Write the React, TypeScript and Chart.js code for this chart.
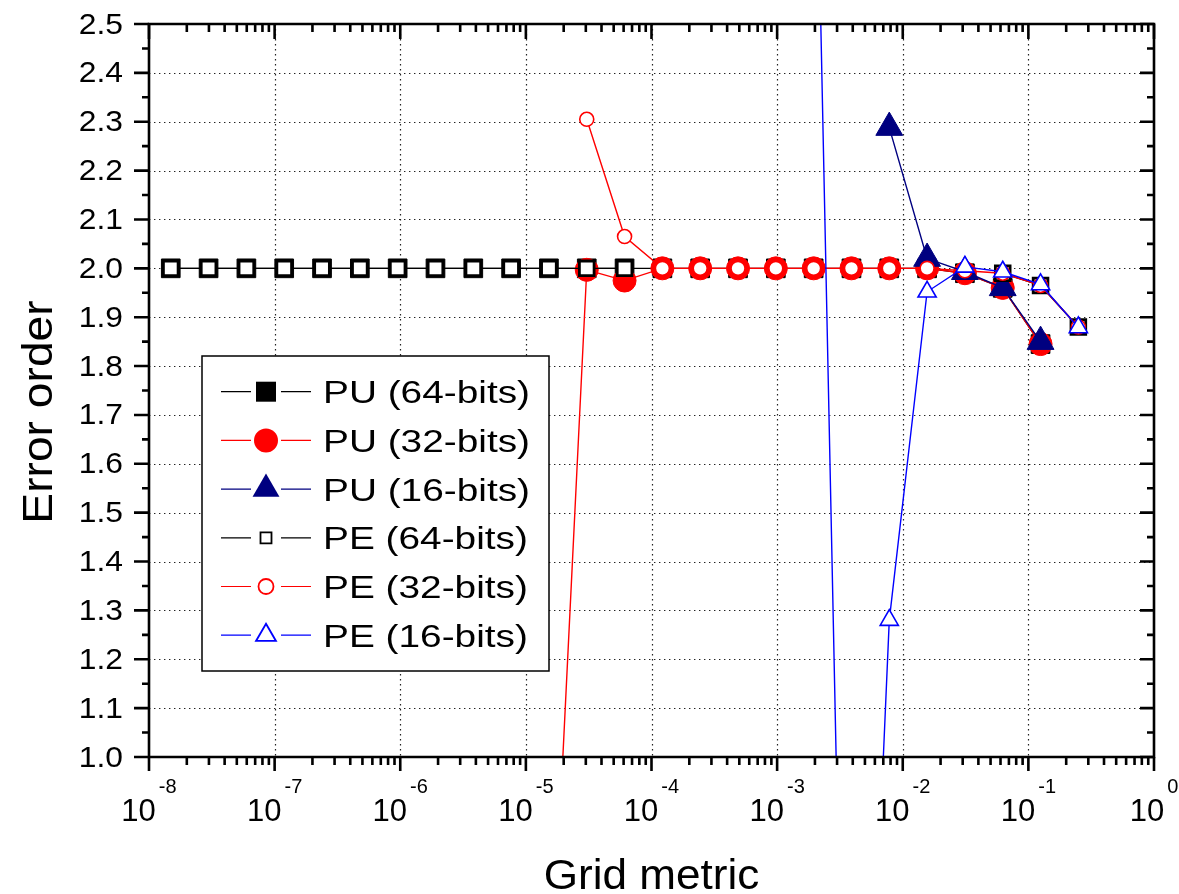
import React, { useEffect, useRef } from "react";
import { Chart, registerables } from "chart.js";

Chart.register(...registerables);

// Grid metric h = 2^-k, k = 2 ... 26
const gridMetric = [
  0.25, 0.125, 0.0625, 0.03125, 0.015625, 0.0078125, 0.00390625, 0.001953125,
  9.765625e-4, 4.8828125e-4, 2.44140625e-4, 1.220703125e-4, 6.103515625e-5,
  3.0517578125e-5, 1.52587890625e-5, 7.62939453125e-6, 3.814697265625e-6,
  1.9073486328125e-6, 9.5367431640625e-7, 4.76837158203125e-7,
  2.384185791015625e-7, 1.1920928955078125e-7, 5.9604644775390625e-8,
  2.98023223876953125e-8, 1.490116119384765625e-8,
];

const puBits64 = [
  null, 1.845, 1.96, 1.99, 2.0, 2.0, 2.0, 2.0, 2.0, 2.0, 2.0, 2.0, 2.0,
  2.0, 2.0, 2.0, 2.0, 2.0, 2.0, 2.0, 2.0, 2.0, 2.0, 2.0, 2.0,
];
const puBits32 = [
  null, 1.845, 1.96, 1.99, 2.0, 2.0, 2.0, 2.0, 2.0, 2.0, 2.0, 2.0, 1.975,
  1.997, 0.42, null, null, null, null, null, null, null, null, null, null,
];
const puBits16 = [
  null, 1.85, 1.96, 1.993, 2.02, 2.288, null, null, null, null, null, null, null,
  null, null, null, null, null, null, null, null, null, null, null, null,
];
const peBits64 = [
  1.88, 1.965, 1.99, null, null, null, null, null, null, null, null, null, 2.0,
  2.0, 2.0, 2.0, 2.0, 2.0, 2.0, 2.0, 2.0, 2.0, 2.0, 2.0, 2.0,
];
const peBits32 = [
  1.88, 1.965, 1.99, 1.995, 2.0, 2.0, 2.0, 2.0, 2.0, 2.0, 2.0, 2.0, 2.065,
  2.305, null, null, null, null, null, null, null, null, null, null, null,
];
const peBits16 = [
  1.879, 1.967, 1.993, 2.003, 1.952, 1.28, -0.5, 3.2, null, null, null, null, null,
  null, null, null, null, null, null, null, null, null, null, null, null,
];

const legendLabels = [
  "PU (64-bits)",
  "PU (32-bits)",
  "PU (16-bits)",
  "PE (64-bits)",
  "PE (32-bits)",
  "PE (16-bits)",
];

const yTickLabels = [
  "1.0", "1.1", "1.2", "1.3", "1.4", "1.5", "1.6", "1.7",
  "1.8", "1.9", "2.0", "2.1", "2.2", "2.3", "2.4", "2.5",
];
const xDecadeExponents = ["-8", "-7", "-6", "-5", "-4", "-3", "-2", "-1", "0"];

const xTitle = "Grid metric";
const yTitle = "Error order";

const FONT = '"Liberation Sans", Arial, Helvetica, sans-serif';

type MarkerKind = "square" | "circle" | "triangle";

const seriesStyles = [
  { color: "#000000", kind: "square" as MarkerKind, filled: true, lr: 10 },
  { color: "#ff0000", kind: "circle" as MarkerKind, filled: true, lr: 12 },
  { color: "#000080", kind: "triangle" as MarkerKind, filled: true, lr: 15.5 },
  { color: "#000000", kind: "square" as MarkerKind, filled: false, lr: 5.5 },
  { color: "#ff0000", kind: "circle" as MarkerKind, filled: false, lr: 7.5 },
  { color: "#0000ff", kind: "triangle" as MarkerKind, filled: false, lr: 11.5 },
];

function drawMarker(
  ctx: CanvasRenderingContext2D,
  kind: MarkerKind,
  x: number,
  y: number,
  r: number,
  color: string,
  filled: boolean
) {
  ctx.save();
  ctx.beginPath();
  if (kind === "square") {
    ctx.rect(x - r, y - r, 2 * r, 2 * r);
  } else if (kind === "circle") {
    ctx.arc(x, y, r, 0, Math.PI * 2);
  } else {
    const h = (r * Math.sqrt(3)) / 2;
    ctx.moveTo(x, y - r);
    ctx.lineTo(x + h, y + r / 2);
    ctx.lineTo(x - h, y + r / 2);
    ctx.closePath();
  }
  if (filled) {
    ctx.fillStyle = color;
    ctx.fill();
  } else {
    ctx.fillStyle = "#ffffff";
    ctx.fill();
    ctx.strokeStyle = color;
    ctx.lineWidth = 1.8;
    ctx.stroke();
  }
  ctx.restore();
}

const originPlugin = {
  id: "originFrame",
  beforeDatasetsDraw(chart: any) {
    const ctx: CanvasRenderingContext2D = chart.ctx;
    const { left, right, top, bottom } = chart.chartArea;
    const xs = chart.scales.x;
    const ys = chart.scales.y;
    ctx.save();
    ctx.strokeStyle = "#222222";
    ctx.lineWidth = 1.2;
    ctx.setLineDash([1.4, 3.6]);
    for (let i = 1; i < xDecadeExponents.length - 1; i++) {
      const px = Math.round(xs.getPixelForValue(Math.pow(10, Number(xDecadeExponents[i])))) + 0.5;
      ctx.beginPath();
      ctx.moveTo(px, top);
      ctx.lineTo(px, bottom);
      ctx.stroke();
    }
    for (let i = 1; i < yTickLabels.length - 1; i++) {
      const py = Math.round(ys.getPixelForValue(Number(yTickLabels[i]))) + 0.5;
      ctx.beginPath();
      ctx.moveTo(left, py);
      ctx.lineTo(right, py);
      ctx.stroke();
    }
    ctx.restore();
  },
  afterDraw(chart: any) {
    const ctx: CanvasRenderingContext2D = chart.ctx;
    const { left, right, top, bottom } = chart.chartArea;
    const xs = chart.scales.x;
    const ys = chart.scales.y;
    ctx.save();
    ctx.strokeStyle = "#000000";
    ctx.lineWidth = 2.6;
    ctx.setLineDash([]);
    ctx.lineCap = "butt";
    // frame
    ctx.beginPath();
    ctx.rect(left, top, right - left, bottom - top);
    ctx.stroke();

    // y ticks: left outward, right inward
    for (let i = 0; i < yTickLabels.length; i++) {
      const v = Number(yTickLabels[i]);
      const py = ys.getPixelForValue(v);
      ctx.beginPath();
      ctx.moveTo(left - 15, py);
      ctx.lineTo(left, py);
      ctx.moveTo(right, py);
      ctx.lineTo(right - 14, py);
      ctx.stroke();
      if (i < yTickLabels.length - 1) {
        const pm = ys.getPixelForValue(v + 0.05);
        ctx.beginPath();
        ctx.moveTo(left - 7, pm);
        ctx.lineTo(left, pm);
        ctx.moveTo(right, pm);
        ctx.lineTo(right - 7, pm);
        ctx.stroke();
      }
    }
    // x ticks: bottom outward, top inward
    for (let i = 0; i < xDecadeExponents.length; i++) {
      const d = Number(xDecadeExponents[i]);
      const px = xs.getPixelForValue(Math.pow(10, d));
      ctx.beginPath();
      ctx.moveTo(px, bottom);
      ctx.lineTo(px, bottom + 14);
      ctx.moveTo(px, top);
      ctx.lineTo(px, top + 15);
      ctx.stroke();
      if (i < xDecadeExponents.length - 1) {
        for (let m = 2; m <= 9; m++) {
          const pm = xs.getPixelForValue(m * Math.pow(10, d));
          ctx.beginPath();
          ctx.moveTo(pm, bottom);
          ctx.lineTo(pm, bottom + 8);
          ctx.moveTo(pm, top);
          ctx.lineTo(pm, top + 8);
          ctx.stroke();
        }
      }
    }

    // y tick labels
    ctx.fillStyle = "#000000";
    ctx.textBaseline = "alphabetic";
    for (let i = 0; i < yTickLabels.length; i++) {
      const py = ys.getPixelForValue(Number(yTickLabels[i]));
      ctx.save();
      ctx.font = `30px ${FONT}`;
      ctx.textAlign = "right";
      ctx.translate(left - 26, py + 9.5);
      ctx.scale(1.06, 1);
      ctx.fillText(yTickLabels[i], 0, 0);
      ctx.restore();
    }

    // x tick labels 10^n
    ctx.textAlign = "left";
    for (let i = 0; i < xDecadeExponents.length; i++) {
      const px = xs.getPixelForValue(Math.pow(10, Number(xDecadeExponents[i])));
      ctx.font = `31px ${FONT}`;
      const wBase = ctx.measureText("10").width;
      ctx.font = `20px ${FONT}`;
      const wExp = ctx.measureText(xDecadeExponents[i]).width;
      const total = wBase + 3 + wExp;
      const x0 = px - total / 2;
      ctx.font = `31px ${FONT}`;
      ctx.fillText("10", x0, bottom + 64);
      ctx.font = `20px ${FONT}`;
      ctx.fillText(xDecadeExponents[i], x0 + wBase + 3, bottom + 36);
    }

    // axis titles
    ctx.font = `42px ${FONT}`;
    ctx.textAlign = "center";
    ctx.save();
    ctx.translate((left + right) / 2, 889);
    ctx.scale(1.05, 1);
    ctx.fillText(xTitle, 0, 0);
    ctx.restore();
    ctx.save();
    ctx.translate(52, 412);
    ctx.rotate(-Math.PI / 2);
    ctx.scale(1.1, 1);
    ctx.fillText(yTitle, 0, 0);
    ctx.restore();

    // legend
    const bx = 202, by = 356, bw = 347, bh = 315;
    ctx.fillStyle = "#ffffff";
    ctx.fillRect(bx, by, bw, bh);
    ctx.strokeStyle = "#000000";
    ctx.lineWidth = 1.5;
    ctx.strokeRect(bx, by, bw, bh);
    ctx.font = `32px ${FONT}`;
    const target = 207;
    const measured = ctx.measureText(legendLabels[0]).width;
    const sx = target / measured;
    for (let i = 0; i < legendLabels.length; i++) {
      const st = seriesStyles[i];
      const cy = 391.7 + i * 48.7;
      ctx.strokeStyle = st.color;
      ctx.lineWidth = 1.2;
      ctx.beginPath();
      ctx.moveTo(221, cy);
      ctx.lineTo(251, cy);
      ctx.moveTo(281, cy);
      ctx.lineTo(311, cy);
      ctx.stroke();
      drawMarker(ctx, st.kind, 266, cy, st.lr, st.color, st.filled);
      ctx.save();
      ctx.fillStyle = "#000000";
      ctx.textAlign = "left";
      ctx.translate(323, cy + 11.5);
      ctx.scale(sx, 1);
      ctx.fillText(legendLabels[i], 0, 0);
      ctx.restore();
    }
    ctx.restore();
  },
};

function buildPoints(values: (number | null)[]) {
  return gridMetric.map((x, i) => ({ x, y: values[i] }));
}

export default function App() {
  const canvasRef = useRef<HTMLCanvasElement | null>(null);

  useEffect(() => {
    const canvas = canvasRef.current;
    if (!canvas) return;
    const mk = (
      label: string,
      values: (number | null)[],
      color: string,
      pointStyle: string,
      radius: number,
      filled: boolean,
      markerBorder: number,
      order: number
    ) => ({
      label,
      data: buildPoints(values),
      borderColor: color,
      backgroundColor: color,
      borderWidth: 1.4,
      pointStyle,
      pointRadius: radius,
      pointHoverRadius: radius,
      pointBackgroundColor: filled ? color : "#ffffff",
      pointBorderColor: color,
      pointBorderWidth: markerBorder,
      fill: false,
      tension: 0,
      spanGaps: false,
      clip: 0,
      order,
    });

    const chart = new Chart(canvas, {
      type: "line",
      data: {
        datasets: [
          mk(legendLabels[0], puBits64, "#000000", "rect", 13.2, true, 1, 5),
          mk(legendLabels[1], puBits32, "#ff0000", "circle", 11.5, true, 1, 4),
          mk(legendLabels[2], puBits16, "#000080", "triangle", 15.5, true, 1, 3),
          mk(legendLabels[3], peBits64, "#000000", "rect", 10.4, false, 2.8, 2),
          mk(legendLabels[4], peBits32, "#ff0000", "circle", 7, false, 1.6, 1),
          mk(legendLabels[5], peBits16, "#0000ff", "triangle", 10.5, false, 1.6, 0),
        ] as any,
      },
      options: {
        animation: false,
        responsive: false,
        maintainAspectRatio: false,
        devicePixelRatio: 1,
        layout: { padding: { left: 149, right: 25, top: 24, bottom: 137 } },
        plugins: {
          legend: { display: false },
          tooltip: { enabled: false },
          title: { display: false },
        },
        scales: {
          x: {
            type: "logarithmic",
            min: 1e-8,
            max: 1,
            display: false,
          },
          y: {
            type: "linear",
            min: 1.0,
            max: 2.5,
            display: false,
          },
        },
      },
      plugins: [originPlugin],
    } as any);
    return () => chart.destroy();
  }, []);

  return (
    <div
      style={{
        position: "fixed",
        left: 0,
        top: 0,
        width: 1179,
        height: 894,
        background: "#ffffff",
      }}
    >
      <canvas ref={canvasRef} width={1179} height={894} style={{ width: 1179, height: 894 }} />
    </div>
  );
}
